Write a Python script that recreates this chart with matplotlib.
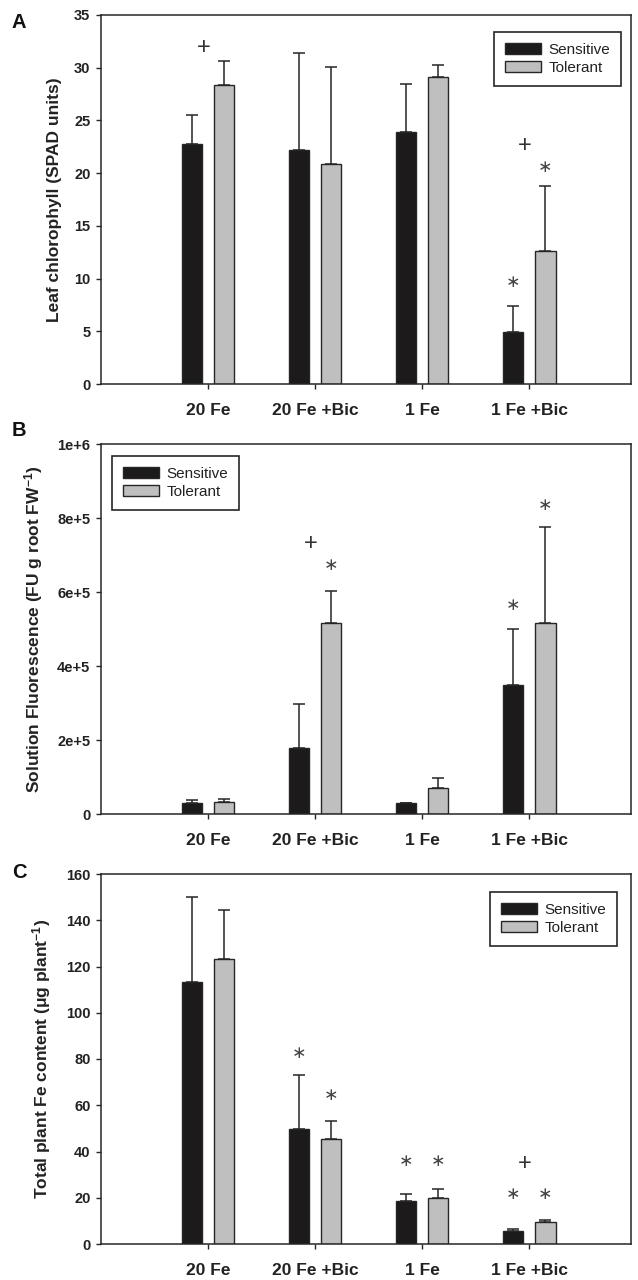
import numpy as np
import matplotlib
matplotlib.use("Agg")
import matplotlib.pyplot as plt

plt.rcParams['font.family'] = ['Liberation Sans', 'DejaVu Sans']
plt.rcParams['mathtext.fontset'] = 'custom'
plt.rcParams['mathtext.bf'] = 'Liberation Sans:bold'
plt.rcParams['mathtext.rm'] = 'Liberation Sans:bold'
plt.rcParams['mathtext.default'] = 'bf'

# treatments on the x axis
categories = ["20 Fe", "20 Fe +Bic", "1 Fe", "1 Fe +Bic"]
groups = ["Sensitive", "Tolerant"]

# panel A: leaf chlorophyll (SPAD units), mean and upper error
chl_sens = [22.8, 22.2, 23.9, 4.9]
chl_sens_err = [2.7, 9.2, 4.6, 2.5]
chl_tol = [28.4, 20.9, 29.1, 12.6]
chl_tol_err = [2.2, 9.2, 1.2, 6.2]

# panel B: solution fluorescence (FU g root FW-1)
fl_sens = [30000, 179000, 30000, 350000]
fl_sens_err = [8000, 117000, 1000, 150000]
fl_tol = [33000, 517000, 70000, 517000]
fl_tol_err = [7000, 87000, 27000, 259000]

# panel C: total plant Fe content (ug plant-1)
fe_sens = [113.3, 49.8, 18.4, 5.7]
fe_sens_err = [36.6, 23.1, 3.1, 1.0]
fe_tol = [123.4, 45.2, 20.1, 9.3]
fe_tol_err = [21.1, 8.2, 3.9, 1.0]

# significance marks: (symbol, category index, which bar, y)
marks_a = [("+", 0, "mid", 31.9), ("+", 3, "mid", 22.6),
           ("*", 3, "sens", 9.7), ("*", 3, "tol", 20.6)]
marks_b = [("+", 1, "mid", 731000), ("*", 1, "tol", 673000),
           ("*", 3, "sens", 565000), ("*", 3, "tol", 835000)]
marks_c = [("*", 1, "sens", 82.5), ("*", 1, "tol", 64.6),
           ("*", 2, "sens", 35.9), ("*", 2, "tol", 35.9),
           ("+", 3, "mid", 34.4), ("*", 3, "sens", 21.5), ("*", 3, "tol", 21.5)]

W, H = 638, 1280
fig = plt.figure(figsize=(W / 100, H / 100), dpi=100)

x = np.arange(len(categories))
bw = 0.19
off = 0.15
sens_color = "#1c1a1b"
tol_color = "#bfbfbf"
ink = "#262626"
mark_dx = {"sens": -off, "tol": off, "mid": -0.04}


def px_box(left, top, right, bottom):
    return [left / W, 1 - bottom / H, (right - left) / W, (bottom - top) / H]


def panel(box, sens, sens_err, tol, tol_err, ylim, yticks, yticklabels,
          ylabel, marks, leg_xy, letter, letter_y):
    ax = fig.add_axes(px_box(*box))
    b1 = ax.bar(x - off, sens, bw, color=sens_color, edgecolor=ink, linewidth=1.0,
                label=groups[0], zorder=2)
    b2 = ax.bar(x + off, tol, bw, color=tol_color, edgecolor=ink, linewidth=1.0,
                label=groups[1], zorder=2)
    ax.errorbar(x - off, sens, yerr=[np.zeros(4), sens_err], fmt="none",
                ecolor=ink, elinewidth=1.1, capsize=4, capthick=1.1, zorder=1)
    ax.errorbar(x + off, tol, yerr=[np.zeros(4), tol_err], fmt="none",
                ecolor=ink, elinewidth=1.1, capsize=4, capthick=1.1, zorder=1)

    for sym, i, which, y in marks:
        if sym == "*":
            ax.text(i + mark_dx[which], y, "\u2217", fontsize=12.5, color="#444444",
                    ha="center", va="center", family=["DejaVu Sans"])
        else:
            ax.text(i + mark_dx[which], y, "+", fontsize=17, color="#333333",
                    ha="center", va="center")

    ax.set_xlim(-1.0, 3.95)
    ax.set_ylim(*ylim)
    ax.set_xticks(x)
    ax.set_xticklabels(categories, fontsize=12.5, fontweight="bold", color="#222222")
    ax.set_yticks(yticks)
    ax.set_yticklabels(yticklabels, fontsize=10.5, fontweight="bold", color="#222222")
    ax.tick_params(axis="x", direction="out", length=3.6, width=1.0, pad=10,
                   colors=ink, labelcolor="#222222")
    ax.tick_params(axis="y", direction="out", length=3.6, width=1.0, pad=4.0,
                   colors=ink, labelcolor="#222222")
    ax.tick_params(top=False, right=False)
    for s in ax.spines.values():
        s.set_linewidth(1.1)
        s.set_color(ink)
    ax.set_ylabel(ylabel, fontsize=12.5, fontweight="bold", color="#222222", labelpad=9)

    leg = ax.legend(handles=[b1, b2], loc="upper left",
                    bbox_to_anchor=(leg_xy[0] / W, 1 - leg_xy[1] / H),
                    bbox_transform=fig.transFigure, borderaxespad=0,
                    fontsize=11, handlelength=2.35, handleheight=0.72,
                    handletextpad=0.5, borderpad=0.7, labelspacing=0.3,
                    fancybox=False, framealpha=1, edgecolor=ink)
    leg.get_frame().set_linewidth(1.2)
    for t in leg.get_texts():
        t.set_color("#222222")

    fig.text(12 / W, 1 - letter_y / H, letter, fontsize=14.5, fontweight="bold",
             ha="left", va="center", color="#111111")
    return ax


panel((101, 15, 631, 384), chl_sens, chl_sens_err, chl_tol, chl_tol_err,
      (0, 35), np.arange(0, 36, 5), [str(v) for v in range(0, 36, 5)],
      "Leaf chlorophyll (SPAD units)", marks_a, (494, 32), "A", 22)

panel((101, 444, 631, 814), fl_sens, fl_sens_err, fl_tol, fl_tol_err,
      (0, 1e6), np.arange(0, 1e6 + 1, 2e5), ["0", "2e+5", "4e+5", "6e+5", "8e+5", "1e+6"],
      r"Solution Fluorescence (FU g root FW$^{-1}$)", marks_b, (112, 456), "B", 430)

panel((101, 874, 631, 1244), fe_sens, fe_sens_err, fe_tol, fe_tol_err,
      (0, 160), np.arange(0, 161, 20), [str(v) for v in range(0, 161, 20)],
      r"Total plant Fe content (μg plant$^{-1}$)", marks_c, (490, 892), "C", 873)

fig.savefig("out.png", dpi=100)
